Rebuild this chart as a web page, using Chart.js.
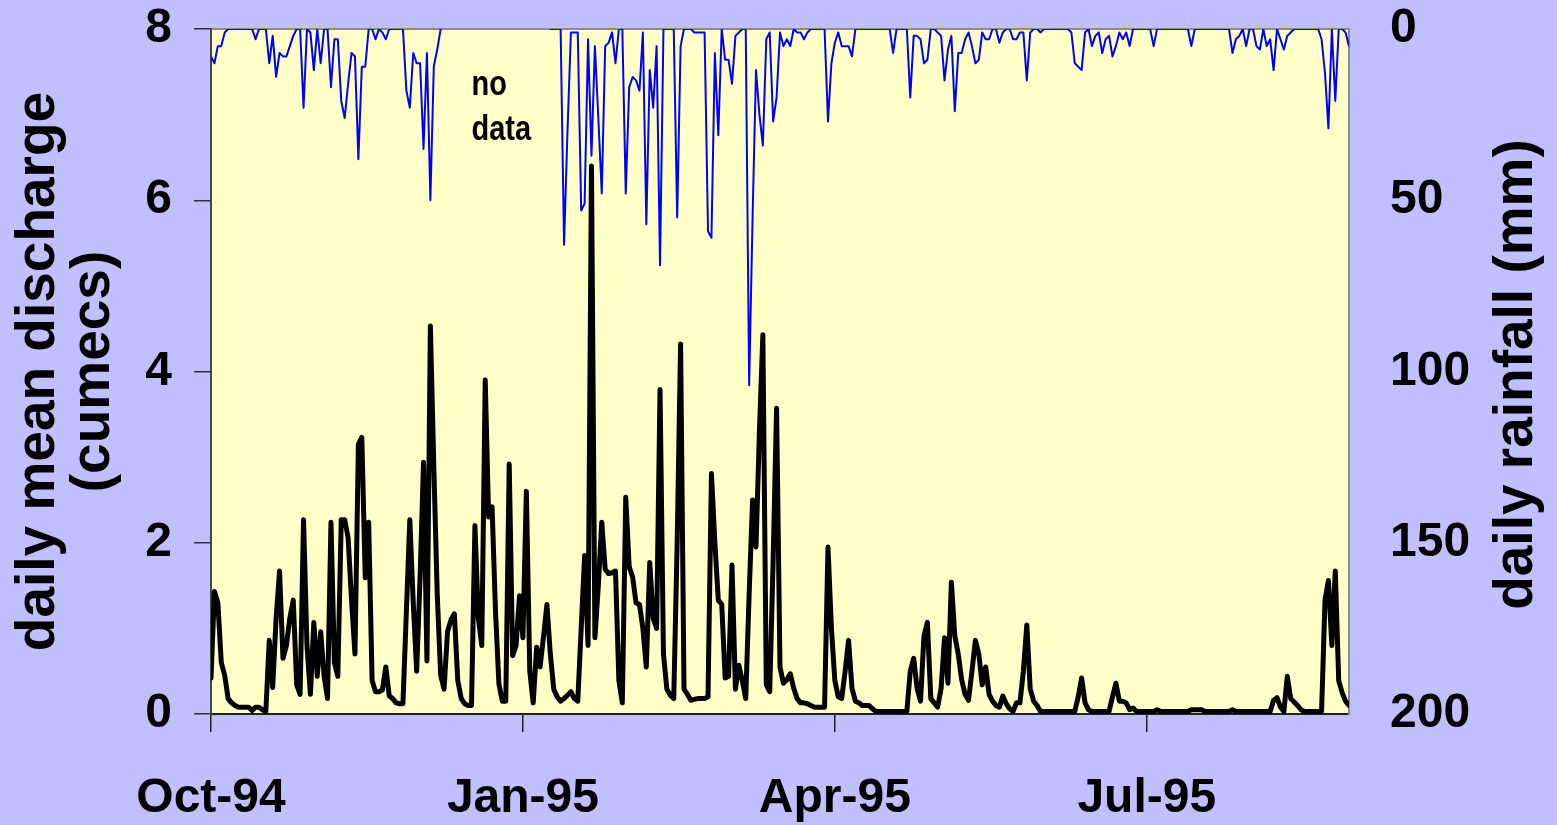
<!DOCTYPE html>
<html>
<head>
<meta charset="utf-8">
<title>Daily discharge and rainfall</title>
<script src="https://cdn.jsdelivr.net/npm/chart.js@4.4.1/dist/chart.umd.min.js"></script>
<style>
  html, body { margin: 0; padding: 0; background: #c0c0ff; }
  canvas { display: block; }
</style>
</head>
<body>
<canvas id="flowChart" width="1557" height="825"></canvas>
<script>
// daily mean discharge (cumecs), one value per day from 1 Oct 1994
var discharge = [
  0.42, 1.43, 1.3, 0.6, 0.45, 0.18, 0.13, 0.1, 0.08, 0.08,
  0.08, 0.08, 0.04, 0.08, 0.08, 0.05, 0.03, 0.86, 0.31, 1.12,
  1.67, 0.65, 0.8, 1.12, 1.33, 0.34, 0.23, 2.27, 0.8, 0.23,
  1.07, 0.44, 0.96, 0.44, 0.18, 2.24, 0.6, 0.44, 2.27, 2.27,
  2.06, 1.33, 0.7, 3.15, 3.23, 1.59, 2.24, 0.39, 0.26, 0.26,
  0.28, 0.55, 0.21, 0.18, 0.13, 0.12, 0.12, 1.2, 2.27, 1.3,
  0.5, 1.6, 2.94, 0.62, 4.53, 2.9, 1.4, 0.45, 0.29, 0.96,
  1.1, 1.17, 0.39, 0.18, 0.12, 0.1, 0.1, 2.2, 1.12, 0.8,
  3.9, 2.3, 2.42, 1.2, 0.35, 0.15, 0.15, 2.92, 0.68, 0.8,
  1.38, 0.89, 2.6, 0.5, 0.13, 0.78, 0.55, 0.9, 1.28, 0.7,
  0.29, 0.2, 0.15, 0.18, 0.22, 0.26, 0.18, 0.15, 1.0, 1.85,
  0.8, 6.4, 0.89, 1.5, 2.24, 1.69, 1.64, 1.65, 1.67, 0.39,
  0.13, 2.53, 1.72, 1.6, 1.3, 1.28, 1.0, 0.55, 1.77, 1.12,
  1.0, 3.79, 0.7, 0.29, 0.22, 0.18, 2.0, 4.32, 0.29, 0.23,
  0.16, 0.17, 0.18, 0.18, 0.18, 0.2, 2.81, 2.0, 1.33, 1.28,
  0.42, 0.44, 1.74, 0.29, 0.57, 0.39, 0.18, 1.4, 2.5, 1.95,
  3.3, 4.43, 0.34, 0.26, 1.8, 3.57, 0.55, 0.36, 0.4, 0.47,
  0.3, 0.18, 0.13, 0.13, 0.12, 0.1, 0.08, 0.08, 0.08, 0.08,
  1.95, 1.0, 0.39, 0.2, 0.18, 0.5, 0.86, 0.3, 0.15, 0.13,
  0.1, 0.1, 0.1, 0.06, 0.03, 0.03, 0.03, 0.03, 0.03, 0.03,
  0.03, 0.03, 0.03, 0.03, 0.5, 0.65, 0.3, 0.15, 0.91, 1.07,
  0.18, 0.13, 0.08, 0.3, 0.89, 0.36, 1.54, 0.91, 0.7, 0.4,
  0.23, 0.16, 0.5, 0.86, 0.7, 0.34, 0.55, 0.23, 0.15, 0.1,
  0.08, 0.21, 0.12, 0.06, 0.03, 0.13, 0.13, 0.5, 1.04, 0.29,
  0.15, 0.1, 0.03, 0.03, 0.03, 0.03, 0.03, 0.03, 0.03, 0.03,
  0.03, 0.03, 0.03, 0.2, 0.42, 0.13, 0.05, 0.03, 0.03, 0.03,
  0.03, 0.03, 0.03, 0.2, 0.36, 0.15, 0.15, 0.13, 0.05, 0.07,
  0.03, 0.03, 0.03, 0.03, 0.03, 0.03, 0.05, 0.03, 0.03, 0.03,
  0.03, 0.03, 0.03, 0.03, 0.03, 0.03, 0.05, 0.05, 0.05, 0.05,
  0.03, 0.03, 0.03, 0.03, 0.03, 0.03, 0.03, 0.03, 0.05, 0.03,
  0.03, 0.03, 0.03, 0.03, 0.03, 0.03, 0.03, 0.03, 0.03, 0.03,
  0.16, 0.19, 0.08, 0.03, 0.44, 0.18, 0.14, 0.1, 0.05, 0.03,
  0.03, 0.03, 0.03, 0.03, 0.03, 1.33, 1.56, 0.8, 1.67, 0.39,
  0.25, 0.15, 0.1
];

// daily rainfall (mm), same days; null = no data
var rainfall = [
  8, 10, 5, 5, 1, 0, 0, 0, 0, 0,
  0, 0, 0, 3, 0, 0, 0, 10, 2, 14,
  7, 8, 8, 5, 2, 0, 0, 23, 0, 1,
  12, 0, 10, 0, 0, 17, 3, 3, 21, 26,
  16, 7, 8, 38, 11, 11, 0, 0, 3, 0,
  1, 3, 0, 0, 0, 0, 0, 18, 23, 7,
  10, 10, 35, 7, 50, 11, 6, 0, null, null,
  null, null, null, null, null, null, null, null, null, null,
  null, null, null, null, null, null, null, null, null, null,
  null, null, null, null, null, null, null, null, null, 0,
  0, 0, 0, 63, 30, 1, 1, 1, 53, 51,
  3, 37, 5, 26, 48, 5, 4, 1, 10, 0,
  0, 48, 17, 14, 15, 18, 1, 57, 12, 23,
  5, 69, 0, 0, 0, 0, 55, 5, 0, 0,
  0, 1, 1, 1, 1, 59, 61, 7, 31, 0,
  9, 9, 16, 2, 1, 0, 0, 104, 55, 12,
  25, 34, 3, 1, 27, 20, 1, 5, 3, 5,
  0, 1, 1, 3, 1, 0, 0, 0, 0, 0,
  27, 10, 4, 1, 5, 5, 5, 8, 0, 0,
  0, 0, 0, 0, 0, 0, 0, 0, 0, 7,
  0, 0, 0, 0, 20, 2, 2, 3, 10, 9,
  0, 0, 1, 2, 15, 6, 2, 24, 7, 7,
  3, 1, 5, 10, 9, 1, 3, 3, 0, 0,
  4, 1, 0, 0, 3, 3, 1, 1, 15, 1,
  0, 0, 1, 0, 0, 0, 0, 0, 0, 0,
  0, 1, 10, 11, 12, 1, 0, 5, 2, 1,
  7, 3, 2, 8, 5, 1, 3, 1, 5, 0,
  0, 0, 0, 0, 0, 5, 0, 0, 0, 0,
  0, 0, 0, 0, 0, 0, 5, 0, 0, 0,
  0, 0, 0, 0, 0, 0, 0, 0, 7, 3,
  2, 0, 5, 0, 0, 5, 6, 0, 5, 3,
  12, 0, 3, 6, 2, 1, 0, 0, 0, 0,
  0, 0, 0, 0, 3, 13, 29, 0, 21, 0,
  0, 1, 5
];

// x axis: day number since 1 Oct 1994 and the month labels
var tickDays = [0, 91, 182, 273];
var tickLabels = ['Oct-94', 'Jan-95', 'Apr-95', 'Jul-95'];

var dischargeTitle = ['daily mean discharge', '(cumecs)'];
var rainTitle = 'daily rainfall (mm)';
var noDataText = ['no', 'data'];

var days = discharge.map(function(v, i) { return i; });

var FONT = '"Liberation Sans", Arial, Helvetica, sans-serif';
Chart.defaults.font.family = FONT;
Chart.defaults.color = '#000';

var tickFont = { size: 48, weight: 'bold', lineHeight: 1 };

// fixed axis sizes so the plot area sits where the original one does
var fixSize = function(w, h) {
  return function(scale) {
    if (w) scale.width = w;
    if (h) scale.height = h;
    scale.paddingTop = 0;
    scale.paddingBottom = 0;
  };
};

// lavender page, yellow plot area, grey frame on top and right
var chartBackground = {
  id: 'chartBackground',
  beforeDraw: function(chart) {
    var ctx = chart.ctx, a = chart.chartArea;
    ctx.save();
    ctx.fillStyle = '#c0c0ff';
    ctx.fillRect(0, 0, chart.width, chart.height);
    ctx.fillStyle = '#ffffc8';
    ctx.fillRect(a.left, a.top, a.right - a.left, a.bottom - a.top);
    ctx.strokeStyle = '#8c8c8c';
    ctx.lineWidth = 2;
    ctx.beginPath();
    ctx.moveTo(a.left, a.top);
    ctx.lineTo(a.right, a.top);
    ctx.lineTo(a.right, a.bottom);
    ctx.stroke();
    ctx.restore();
  }
};

// right axis title (reads upwards) and the "no data" note
var extraText = {
  id: 'extraText',
  afterDraw: function(chart) {
    var ctx = chart.ctx, a = chart.chartArea;
    var xs = chart.scales.x, ys = chart.scales.y;

    ctx.save();
    ctx.fillStyle = '#000';
    ctx.font = 'bold 55px ' + FONT;
    ctx.textAlign = 'center';
    ctx.textBaseline = 'middle';
    ctx.translate(a.right + 168, (a.top + a.bottom) / 2 + 3);
    ctx.rotate(-Math.PI / 2);
    ctx.fillText(rainTitle, 0, 0);
    ctx.restore();

    var nx = xs.getPixelForValue(76);
    var lines = [7.23, 6.70];
    ctx.fillStyle = '#000';
    ctx.font = 'bold 29px ' + FONT;
    ctx.textAlign = 'left';
    ctx.textBaseline = 'alphabetic';
    for (var i = 0; i < noDataText.length; i++) {
      ctx.save();
      ctx.translate(nx, ys.getPixelForValue(lines[i]));
      ctx.scale(1, 1.2);
      ctx.fillText(noDataText[i], 0, 0);
      ctx.restore();
    }
  }
};

new Chart(document.getElementById('flowChart'), {
  type: 'line',
  data: {
    labels: days,
    datasets: [
      {
        label: 'discharge',
        data: discharge,
        yAxisID: 'y',
        borderColor: '#000000',
        borderWidth: 5
      },
      {
        label: 'rainfall',
        data: rainfall,
        yAxisID: 'y2',
        borderColor: '#0000ff',
        borderWidth: 2,
        spanGaps: false
      }
    ]
  },
  options: {
    responsive: false,
    animation: false,
    devicePixelRatio: 1,
    layout: { padding: { top: 29, left: 0, right: 0, bottom: 0 } },
    plugins: {
      legend: { display: false },
      tooltip: { enabled: false }
    },
    elements: {
      point: { radius: 0 },
      line: { tension: 0, borderJoinStyle: 'round', borderCapStyle: 'round', fill: false }
    },
    scales: {
      x: {
        type: 'linear',
        position: 'bottom',
        min: 0,
        max: discharge.length - 1,
        afterBuildTicks: function(scale) {
          scale.ticks = tickDays.map(function(d) { return { value: d }; });
        },
        afterFit: fixSize(0, 111),
        grid: { display: true, drawOnChartArea: false, drawTicks: true, tickLength: 18, color: '#222', lineWidth: 1.5 },
        border: { color: '#222', width: 2 },
        ticks: {
          font: tickFont,
          color: '#000',
          padding: 43,
          maxRotation: 0,
          autoSkip: false,
          callback: function(v) { return tickLabels[tickDays.indexOf(v)]; }
        }
      },
      y: {
        position: 'left',
        min: 0,
        max: 8,
        afterFit: fixSize(211, 0),
        grid: { drawOnChartArea: false, drawTicks: true, tickLength: 17, color: '#333', lineWidth: 1.5 },
        border: { color: '#444', width: 2 },
        ticks: { stepSize: 2, padding: 22, font: tickFont, color: '#000' },
        title: {
          display: true,
          text: dischargeTitle,
          color: '#000',
          font: { size: 55, weight: 'bold', lineHeight: 1 },
          padding: { top: 11, bottom: 0 }
        }
      },
      y2: {
        position: 'right',
        min: 0,
        max: 200,
        reverse: true,
        afterFit: fixSize(208, 0),
        grid: { display: false, drawTicks: false, drawOnChartArea: false },
        border: { color: '#8c8c8c', width: 2 },
        ticks: { stepSize: 50, padding: 41, font: tickFont, color: '#000' }
      }
    }
  },
  plugins: [chartBackground, extraText]
});
</script>
</body>
</html>
